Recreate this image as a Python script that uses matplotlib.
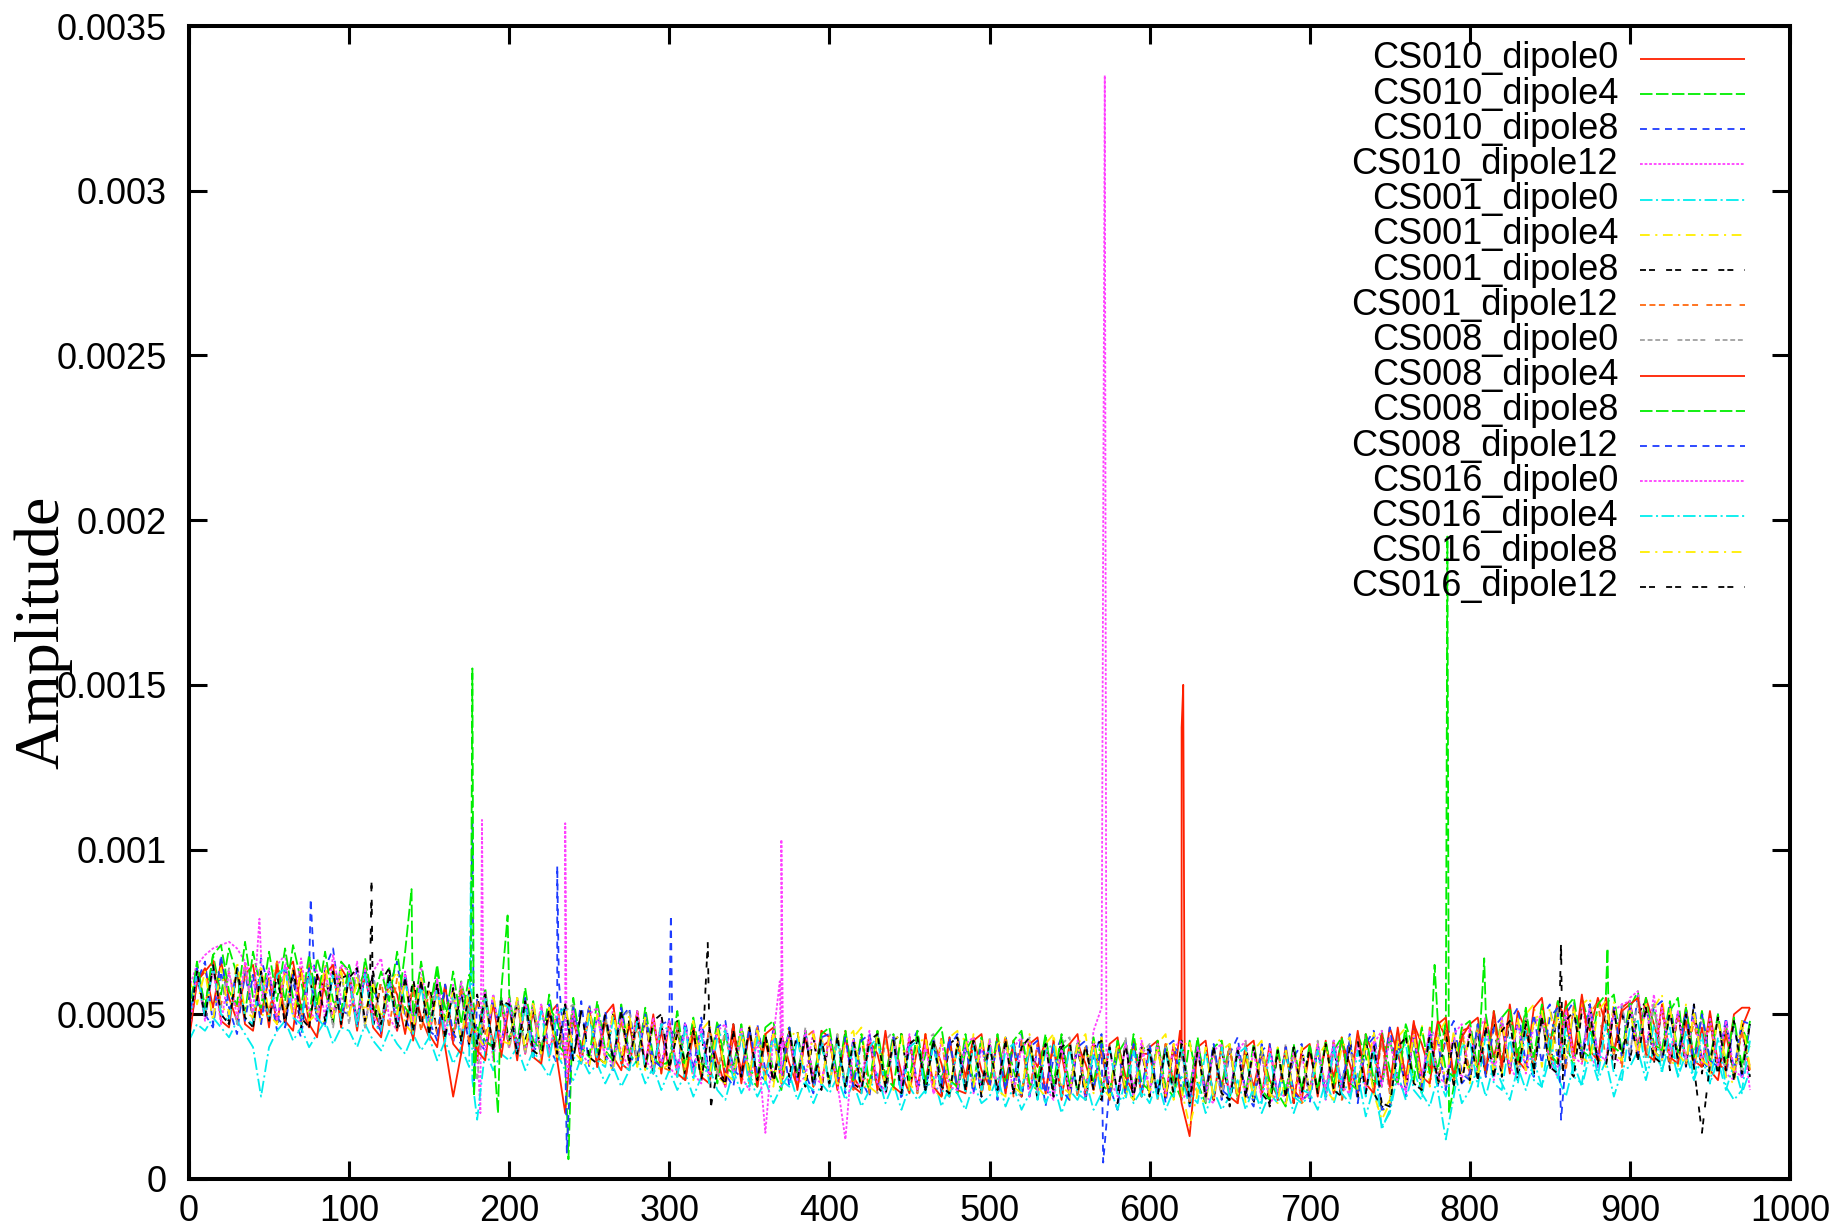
import numpy as np
import matplotlib.pyplot as plt

plt.rcParams['lines.scale_dashes'] = False

# amplitude samples every 5 channels, in units of 1e-5
x_step = 5
scale = 1e-5

cs010_dipole0 = [
    44, 60, 64, 52, 66, 55, 48, 62, 65, 50, 61, 47, 63, 66, 52, 46, 62, 57, 49, 64,
    60, 47, 63, 52, 45, 61, 56, 44, 59, 49, 43, 58, 40, 25, 38, 55, 36, 54, 41, 53,
    40, 54, 38, 51, 37, 50, 53, 35, 48, 39, 52, 34, 48, 37, 33, 47, 35, 49, 32, 45,
    33, 46, 30, 44, 31, 45, 36, 28, 43, 33, 45, 29, 42, 30, 44, 35, 28, 43, 31, 40,
    42, 29, 44, 31, 27, 42, 38, 28, 43, 32, 26, 40, 30, 42, 35, 25, 41, 31, 43, 33,
    28, 43, 30, 40, 26, 39, 34, 42, 27, 38, 25, 41, 35, 27, 40, 24, 42, 31, 26, 38,
    38, 26, 41, 29, 37, 25, 42, 27, 39, 28, 40, 25, 37, 28, 39, 30, 25, 38, 27, 24,
    39, 27, 41, 31, 42, 35, 26, 44, 37, 30, 46, 38, 29, 47, 41, 33, 48, 43, 31, 45,
    46, 33, 49, 37, 47, 32, 51, 45, 34, 52, 41, 54, 48, 36, 53, 45, 55, 47, 38, 52,
    54, 40, 55, 47, 38, 52, 36, 48, 34, 46, 33, 30, 44, 32, 46, 52]
cs010_dipole4 = [
    46, 64, 52, 68, 56, 70, 62, 50, 69, 57, 48, 66, 54, 71, 60, 49, 67, 58, 47, 66,
    63, 48, 67, 53, 46, 64, 50, 69, 43, 60, 46, 63, 52, 44, 60, 49, 42, 58, 38, 55,
    42, 55, 39, 54, 37, 52, 48, 38, 53, 36, 50, 38, 49, 34, 48, 37, 51, 33, 47, 35,
    35, 47, 31, 46, 30, 45, 29, 44, 34, 46, 31, 28, 44, 33, 27, 43, 32, 44, 29, 41,
    30, 43, 28, 42, 33, 27, 43, 31, 44, 28, 41, 27, 38, 43, 30, 42, 26, 39, 43, 28,
    41, 27, 43, 33, 25, 42, 30, 44, 27, 39, 41, 26, 40, 29, 43, 24, 38, 42, 27, 40,
    39, 26, 41, 30, 24, 42, 29, 23, 40, 28, 41, 25, 38, 24, 40, 29, 26, 22, 39, 27,
    27, 41, 26, 39, 43, 29, 44, 37, 28, 45, 33, 29, 47, 39, 26, 44, 33, 48, 28, 43,
    33, 47, 31, 51, 36, 49, 38, 52, 33, 50, 39, 54, 41, 34, 55, 46, 36, 53, 56, 38,
    52, 57, 37, 53, 36, 51, 55, 35, 50, 34, 49, 33, 47, 31, 46, 40]
cs010_dipole8 = [
    43, 60, 66, 47, 68, 52, 44, 63, 48, 67, 58, 45, 65, 50, 43, 62, 47, 64, 70, 51,
    50, 64, 46, 62, 44, 58, 66, 49, 43, 61, 48, 42, 59, 41, 57, 40, 55, 38, 56, 40,
    55, 39, 53, 36, 52, 40, 35, 51, 37, 54, 34, 50, 38, 33, 49, 52, 35, 50, 32, 47,
    48, 31, 46, 33, 49, 30, 45, 32, 28, 44, 31, 47, 33, 29, 45, 28, 43, 32, 26, 42,
    28, 44, 26, 43, 30, 25, 44, 28, 42, 24, 40, 45, 27, 42, 26, 40, 44, 28, 41, 25,
    41, 24, 43, 29, 44, 25, 40, 22, 37, 43, 26, 41, 24, 37, 44, 28, 21, 42, 25, 39,
    25, 42, 23, 40, 38, 22, 42, 26, 41, 24, 38, 43, 26, 22, 41, 24, 39, 23, 37, 41,
    23, 40, 26, 42, 28, 44, 23, 41, 45, 28, 46, 31, 25, 47, 30, 45, 28, 43, 48, 32,
    30, 47, 32, 50, 33, 48, 52, 35, 31, 49, 53, 36, 50, 54, 37, 52, 34, 55, 38, 53,
    37, 56, 39, 52, 54, 35, 51, 34, 53, 36, 33, 50, 31, 48, 30, 47]
cs010_dipole12 = [
    58, 65, 68, 70, 71, 72, 70, 66, 60, 52, 50, 65, 68, 52, 47, 66, 63, 49, 68, 55,
    52, 66, 47, 63, 67, 49, 45, 62, 48, 65, 44, 61, 46, 42, 60, 45, 40, 57, 36, 54,
    40, 55, 38, 53, 36, 52, 39, 37, 53, 38, 35, 50, 36, 52, 38, 34, 49, 36, 33, 48,
    34, 31, 47, 32, 29, 46, 33, 28, 45, 31, 27, 44, 30, 46, 28, 43, 29, 31, 45, 28,
    44, 28, 42, 27, 30, 45, 28, 26, 43, 29, 44, 27, 41, 26, 29, 43, 27, 42, 26, 40,
    28, 42, 26, 40, 43, 25, 41, 28, 24, 42, 27, 41, 25, 45, 52, 29, 26, 41, 25, 39,
    26, 41, 25, 39, 24, 27, 42, 25, 23, 40, 24, 39, 42, 24, 38, 23, 26, 40, 24, 38,
    25, 40, 24, 38, 42, 26, 43, 27, 41, 45, 28, 44, 26, 45, 29, 46, 42, 27, 44, 47,
    31, 45, 49, 30, 48, 34, 30, 50, 33, 51, 35, 31, 52, 36, 54, 38, 33, 55, 37, 35,
    55, 57, 39, 56, 37, 53, 35, 52, 34, 50, 33, 49, 32, 30, 46, 27]
cs001_dipole0 = [
    42, 47, 45, 49, 46, 43, 48, 44, 40, 25, 40, 45, 48, 42, 46, 40, 44, 48, 41, 46,
    45, 40, 47, 42, 39, 45, 41, 38, 44, 39, 43, 36, 42, 35, 40, 34, 18, 39, 33, 38,
    36, 40, 33, 39, 35, 31, 38, 33, 30, 37, 32, 35, 29, 34, 28, 33, 36, 29, 34, 27,
    33, 27, 32, 25, 31, 34, 27, 24, 33, 26, 31, 25, 30, 23, 28, 32, 24, 30, 23, 29,
    26, 31, 24, 29, 22, 27, 32, 23, 29, 21, 28, 24, 27, 31, 22, 28, 26, 21, 29, 23,
    25, 31, 22, 28, 21, 26, 31, 23, 29, 20, 27, 24, 30, 21, 26, 28, 21, 30, 23, 27,
    23, 30, 21, 27, 31, 22, 29, 20, 27, 21, 25, 30, 21, 28, 20, 26, 23, 29, 20, 27,
    26, 21, 30, 23, 31, 25, 32, 19, 28, 16, 20, 32, 24, 33, 26, 22, 31, 25, 34, 23,
    27, 34, 25, 35, 29, 24, 34, 27, 36, 28, 37, 31, 25, 35, 28, 38, 30, 36, 25, 33,
    34, 39, 30, 40, 33, 41, 31, 38, 30, 37, 29, 36, 27, 35, 26, 33]
cs001_dipole4 = [
    48, 62, 51, 65, 53, 49, 64, 50, 62, 47, 60, 66, 50, 64, 48, 62, 51, 47, 61, 64,
    49, 62, 47, 60, 46, 59, 63, 47, 44, 60, 45, 59, 43, 57, 42, 55, 41, 54, 38, 53,
    52, 38, 53, 40, 36, 52, 38, 35, 51, 37, 34, 50, 36, 33, 49, 35, 51, 33, 48, 32,
    47, 31, 46, 30, 45, 48, 31, 29, 46, 30, 47, 29, 45, 28, 44, 46, 29, 45, 28, 44,
    28, 44, 27, 43, 46, 28, 26, 43, 27, 45, 29, 26, 44, 27, 25, 43, 45, 27, 44, 26,
    43, 27, 25, 42, 26, 44, 28, 25, 43, 26, 24, 41, 44, 26, 43, 25, 42, 24, 40, 43,
    25, 41, 44, 24, 40, 42, 25, 23, 40, 43, 24, 40, 23, 39, 42, 24, 40, 22, 39, 23,
    25, 42, 27, 24, 43, 26, 44, 28, 45, 20, 24, 43, 46, 29, 47, 28, 44, 48, 29, 46,
    29, 47, 31, 49, 32, 51, 33, 50, 53, 34, 52, 35, 54, 36, 53, 55, 37, 34, 54, 36,
    53, 55, 37, 52, 56, 36, 34, 53, 33, 51, 32, 50, 31, 29, 47, 33]
cs001_dipole8 = [
    46, 62, 49, 65, 50, 48, 63, 49, 46, 62, 48, 64, 47, 61, 46, 62, 49, 63, 47, 61,
    62, 47, 63, 46, 60, 64, 47, 45, 61, 46, 60, 44, 58, 43, 57, 41, 56, 42, 40, 55,
    41, 53, 42, 51, 39, 50, 38, 53, 36, 51, 52, 37, 35, 50, 36, 48, 37, 49, 33, 47,
    33, 48, 32, 46, 31, 45, 33, 30, 47, 31, 45, 30, 44, 29, 43, 31, 45, 28, 43, 27,
    43, 28, 44, 29, 27, 43, 28, 25, 42, 44, 27, 43, 26, 42, 25, 41, 43, 27, 42, 25,
    41, 43, 27, 42, 25, 41, 24, 42, 27, 43, 25, 41, 24, 40, 42, 26, 23, 41, 24, 40,
    25, 41, 24, 40, 42, 23, 39, 41, 24, 40, 22, 39, 41, 23, 39, 22, 38, 40, 23, 39,
    26, 40, 25, 41, 23, 42, 25, 43, 26, 22, 21, 43, 27, 44, 28, 41, 29, 45, 28, 44,
    30, 44, 32, 47, 31, 49, 30, 48, 32, 50, 33, 52, 34, 31, 51, 53, 35, 52, 33, 51,
    36, 50, 54, 35, 52, 33, 51, 34, 53, 32, 50, 31, 48, 30, 47, 31]
cs001_dipole12 = [
    49, 64, 52, 67, 53, 63, 51, 65, 48, 63, 50, 66, 49, 64, 47, 65, 50, 61, 63, 49,
    62, 47, 64, 48, 60, 46, 61, 49, 58, 45, 57, 44, 59, 42, 58, 41, 54, 44, 53, 41,
    55, 39, 52, 38, 53, 37, 52, 38, 51, 36, 50, 39, 49, 37, 48, 36, 46, 35, 49, 34,
    33, 48, 32, 44, 31, 46, 32, 45, 30, 44, 29, 46, 31, 45, 29, 44, 28, 43, 45, 28,
    44, 29, 45, 27, 43, 26, 45, 28, 42, 27, 42, 26, 44, 27, 43, 25, 42, 28, 41, 26,
    40, 26, 44, 25, 42, 27, 41, 26, 40, 24, 41, 25, 40, 27, 39, 24, 40, 26, 42, 25,
    39, 24, 41, 25, 40, 23, 42, 24, 40, 25, 41, 23, 39, 26, 38, 24, 39, 25, 40, 23,
    27, 40, 26, 42, 24, 41, 28, 43, 26, 42, 26, 44, 29, 45, 27, 46, 28, 45, 30, 44,
    32, 46, 34, 48, 33, 50, 35, 48, 33, 51, 34, 52, 33, 53, 35, 50, 54, 36, 51, 34,
    53, 36, 55, 37, 52, 34, 50, 35, 48, 33, 47, 34, 46, 32, 45, 33]
cs008_dipole0 = [
    44, 62, 51, 63, 52, 64, 47, 65, 49, 61, 48, 63, 51, 62, 49, 61, 50, 62, 46, 63,
    47, 64, 46, 63, 45, 62, 44, 61, 45, 59, 46, 57, 45, 55, 44, 54, 30, 56, 39, 55,
    39, 54, 38, 53, 37, 52, 36, 51, 53, 36, 51, 35, 50, 34, 49, 51, 35, 50, 33, 48,
    34, 46, 35, 45, 33, 44, 32, 46, 31, 44, 32, 45, 30, 43, 31, 42, 30, 46, 29, 44,
    28, 44, 29, 41, 30, 43, 26, 42, 45, 27, 43, 26, 42, 44, 27, 43, 28, 41, 29, 42,
    43, 26, 42, 27, 25, 43, 26, 42, 25, 41, 43, 26, 24, 42, 26, 41, 25, 43, 26, 38,
    41, 25, 40, 28, 39, 24, 41, 23, 40, 25, 39, 24, 42, 25, 38, 26, 24, 41, 25, 37,
    26, 42, 25, 41, 29, 40, 28, 44, 27, 43, 26, 44, 32, 42, 31, 43, 45, 28, 44, 32,
    31, 47, 35, 46, 34, 50, 33, 49, 37, 48, 36, 52, 35, 51, 39, 50, 38, 54, 37, 53,
    38, 54, 37, 53, 36, 52, 35, 51, 34, 50, 33, 49, 32, 48, 31, 47]
cs008_dipole4 = [
    42, 60, 63, 66, 48, 46, 64, 47, 45, 63, 46, 65, 48, 45, 64, 47, 43, 62, 65, 46,
    62, 45, 63, 46, 43, 61, 45, 62, 42, 60, 44, 40, 59, 41, 38, 57, 39, 36, 54, 37,
    53, 36, 54, 37, 35, 52, 36, 20, 51, 35, 52, 34, 50, 53, 35, 33, 51, 34, 50, 32,
    48, 32, 30, 47, 31, 29, 46, 30, 47, 29, 45, 28, 44, 46, 29, 45, 27, 44, 28, 45,
    43, 27, 44, 28, 26, 43, 27, 45, 28, 26, 43, 27, 44, 28, 25, 43, 27, 26, 42, 44,
    27, 43, 26, 42, 25, 41, 43, 26, 42, 24, 41, 44, 26, 42, 25, 41, 43, 26, 42, 25,
    40, 42, 25, 41, 23, 13, 40, 42, 24, 41, 25, 23, 40, 42, 25, 41, 24, 40, 23, 39,
    41, 25, 42, 26, 43, 27, 45, 29, 26, 44, 28, 46, 30, 48, 31, 29, 47, 49, 31, 43,
    47, 49, 32, 51, 34, 53, 36, 33, 52, 55, 37, 35, 54, 38, 56, 39, 36, 55, 38, 51,
    53, 55, 38, 36, 53, 37, 35, 52, 36, 34, 51, 35, 33, 50, 52, 52]
cs008_dipole8 = [
    50, 66, 52, 68, 71, 57, 53, 72, 55, 52, 69, 54, 70, 55, 52, 68, 53, 69, 54, 51,
    65, 56, 64, 55, 63, 54, 69, 52, 49, 66, 50, 65, 48, 63, 47, 62, 46, 42, 40, 57,
    56, 41, 58, 42, 39, 56, 41, 38, 55, 40, 37, 54, 39, 36, 53, 38, 35, 52, 37, 34,
    36, 51, 34, 49, 35, 33, 48, 34, 32, 47, 33, 31, 46, 48, 32, 46, 31, 45, 30, 44,
    46, 31, 45, 30, 44, 29, 45, 31, 28, 44, 30, 45, 29, 43, 46, 30, 28, 44, 29, 43,
    29, 44, 28, 42, 45, 29, 27, 43, 29, 44, 28, 42, 27, 43, 29, 26, 42, 28, 44, 29,
    27, 42, 28, 25, 41, 27, 43, 26, 40, 42, 25, 40, 26, 41, 27, 24, 40, 26, 41, 27,
    41, 27, 42, 28, 43, 29, 27, 44, 30, 28, 43, 29, 45, 30, 46, 32, 48, 33, 31, 46,
    48, 33, 50, 35, 49, 52, 36, 51, 37, 53, 38, 35, 52, 55, 39, 37, 53, 56, 40, 38,
    54, 40, 55, 41, 39, 54, 38, 52, 37, 51, 36, 50, 35, 49, 34, 48]
cs008_dipole12 = [
    48, 64, 50, 46, 63, 49, 65, 48, 62, 47, 63, 49, 46, 62, 48, 64, 49, 47, 63, 48,
    62, 47, 63, 48, 45, 61, 46, 62, 44, 60, 45, 43, 59, 44, 41, 57, 42, 39, 55, 41,
    54, 39, 55, 40, 38, 53, 39, 37, 52, 38, 53, 37, 51, 36, 52, 37, 35, 50, 36, 34,
    49, 34, 48, 33, 47, 32, 46, 48, 33, 31, 46, 32, 30, 45, 31, 46, 30, 44, 29, 43,
    44, 29, 43, 28, 42, 44, 29, 27, 43, 28, 42, 29, 27, 42, 28, 43, 27, 41, 26, 42,
    28, 42, 27, 41, 25, 40, 42, 26, 41, 27, 24, 40, 42, 27, 41, 25, 40, 26, 41, 27,
    41, 26, 40, 42, 27, 25, 40, 26, 41, 27, 25, 40, 26, 24, 39, 41, 25, 40, 26, 24,
    26, 40, 25, 41, 27, 42, 26, 40, 43, 21, 22, 41, 27, 43, 28, 44, 42, 27, 43, 29,
    32, 47, 31, 46, 49, 33, 48, 34, 50, 35, 49, 52, 36, 51, 37, 53, 38, 36, 52, 37,
    52, 38, 53, 39, 36, 52, 37, 51, 35, 50, 36, 34, 49, 33, 48, 47]
cs016_dipole0 = [
    45, 62, 48, 64, 47, 63, 49, 66, 50, 68, 64, 48, 65, 50, 67, 51, 48, 64, 49, 65,
    63, 48, 64, 49, 46, 62, 48, 63, 47, 61, 45, 60, 44, 59, 42, 58, 43, 39, 56, 41,
    55, 40, 54, 39, 53, 38, 52, 37, 51, 36, 50, 52, 37, 35, 50, 36, 51, 35, 49, 34,
    48, 33, 47, 32, 46, 31, 45, 47, 32, 46, 31, 42, 14, 43, 29, 44, 30, 45, 31, 29,
    43, 29, 12, 42, 28, 43, 29, 27, 42, 28, 43, 27, 41, 26, 42, 28, 27, 41, 43, 28,
    42, 27, 41, 26, 40, 42, 27, 41, 25, 40, 26, 42, 27, 41, 26, 40, 25, 41, 27, 42,
    27, 41, 26, 40, 42, 26, 40, 25, 39, 41, 26, 40, 25, 39, 24, 40, 26, 25, 39, 24,
    26, 41, 27, 42, 28, 26, 41, 27, 42, 28, 43, 29, 27, 44, 30, 45, 31, 29, 44, 30,
    46, 31, 47, 33, 49, 34, 48, 32, 47, 50, 36, 34, 51, 37, 35, 52, 38, 36, 51, 53,
    54, 39, 53, 38, 52, 37, 51, 36, 50, 35, 49, 34, 48, 33, 31, 35]
cs016_dipole4 = [
    47, 63, 49, 65, 50, 48, 64, 49, 47, 63, 48, 62, 64, 49, 47, 63, 49, 46, 62, 48,
    61, 46, 62, 47, 45, 60, 46, 61, 44, 59, 43, 58, 42, 57, 41, 56, 40, 55, 39, 54,
    52, 38, 53, 37, 51, 36, 50, 52, 37, 35, 50, 36, 34, 49, 35, 33, 48, 34, 32, 47,
    45, 31, 46, 30, 44, 29, 43, 45, 30, 44, 28, 43, 29, 44, 30, 28, 43, 29, 27, 42,
    28, 42, 27, 41, 26, 40, 43, 27, 41, 25, 40, 42, 26, 41, 27, 25, 40, 26, 41, 27,
    40, 25, 39, 41, 26, 40, 24, 39, 41, 25, 40, 26, 24, 39, 25, 40, 26, 24, 39, 25,
    38, 24, 39, 25, 40, 26, 23, 39, 25, 40, 24, 38, 40, 25, 23, 38, 24, 39, 25, 23,
    25, 39, 24, 40, 26, 23, 39, 25, 40, 15, 21, 38, 41, 27, 24, 42, 27, 12, 25, 40,
    42, 28, 44, 29, 27, 43, 29, 45, 30, 28, 44, 30, 46, 31, 29, 45, 31, 47, 32, 30,
    46, 48, 33, 47, 32, 46, 31, 45, 30, 44, 29, 43, 28, 24, 27, 42]
cs016_dipole8 = [
    61, 53, 63, 48, 64, 50, 66, 51, 49, 65, 50, 47, 63, 49, 64, 48, 50, 65, 49, 63,
    50, 60, 51, 59, 49, 58, 50, 60, 45, 61, 46, 56, 48, 57, 42, 58, 43, 40, 56, 42,
    41, 55, 39, 54, 38, 52, 37, 53, 39, 36, 52, 37, 35, 51, 36, 50, 34, 49, 35, 33,
    35, 44, 34, 48, 33, 31, 46, 32, 30, 45, 31, 46, 30, 44, 29, 43, 45, 30, 44, 29,
    43, 28, 42, 45, 29, 27, 43, 28, 42, 44, 27, 41, 43, 28, 42, 27, 41, 43, 28, 42,
    27, 41, 43, 28, 26, 42, 27, 41, 44, 28, 26, 41, 27, 42, 28, 25, 41, 27, 24, 40,
    26, 40, 25, 41, 27, 16, 26, 40, 24, 39, 41, 25, 39, 24, 40, 26, 23, 39, 25, 40,
    27, 37, 41, 26, 40, 43, 27, 41, 26, 18, 23, 42, 28, 44, 29, 39, 43, 29, 45, 30,
    45, 31, 47, 32, 48, 34, 49, 33, 48, 51, 35, 50, 36, 52, 37, 35, 51, 54, 38, 36,
    52, 37, 53, 39, 36, 52, 38, 35, 51, 36, 34, 49, 35, 33, 48, 34]
cs016_dipole12 = [
    46, 63, 49, 65, 50, 47, 64, 49, 46, 63, 48, 62, 47, 64, 49, 46, 62, 48, 63, 47,
    61, 64, 48, 63, 47, 62, 46, 61, 45, 60, 44, 59, 43, 58, 42, 57, 41, 56, 39, 54,
    53, 38, 54, 39, 37, 52, 38, 53, 36, 51, 37, 35, 50, 36, 51, 35, 49, 34, 48, 50,
    34, 44, 35, 45, 30, 46, 32, 29, 45, 31, 46, 30, 44, 29, 43, 45, 30, 44, 28, 43,
    29, 43, 28, 42, 27, 42, 44, 28, 42, 26, 41, 43, 27, 42, 28, 26, 41, 27, 42, 28,
    41, 27, 42, 26, 40, 43, 27, 41, 25, 40, 42, 26, 41, 27, 24, 40, 26, 41, 25, 40,
    39, 25, 40, 26, 41, 24, 39, 25, 40, 26, 24, 39, 25, 40, 26, 23, 39, 25, 40, 26,
    40, 26, 41, 27, 25, 40, 42, 26, 41, 23, 22, 40, 43, 29, 27, 44, 30, 28, 43, 29,
    44, 30, 46, 31, 45, 48, 32, 47, 33, 49, 34, 32, 48, 51, 35, 50, 36, 34, 51, 37,
    50, 36, 52, 37, 35, 51, 36, 50, 34, 14, 35, 49, 33, 48, 32, 47]

# isolated glitches between the regular samples: (channel, amplitude)
spikes = {
    'CS010_dipole0': [(619, 45), (620, 137), (621, 150), (622, 28)],
    'CS010_dipole4': [(139, 88), (141, 50), (785, 42), (786, 195), (787, 20)],
    'CS010_dipole8': [(76, 85), (177, 108), (178, 30), (571, 5)],
    'CS010_dipole12': [(182, 20), (183, 109), (184, 45), (572, 335), (573, 38)],
    'CS001_dipole0': [(176, 90), (177, 30)],
    'CS001_dipole8': [(113, 58), (114, 90), (324, 72), (326, 22)],
    'CS008_dipole8': [(176, 60), (177, 155), (178, 25), (193, 20), (199, 80),
                      (237, 6), (778, 65), (809, 67), (886, 70), (887, 40)],
    'CS008_dipole12': [(230, 95), (231, 60), (236, 8), (301, 80), (302, 40),
                       (857, 18)],
    'CS016_dipole0': [(44, 79), (46, 55), (235, 108), (236, 30), (369, 60),
                      (370, 103), (371, 40)],
    'CS016_dipole12': [(856, 50), (857, 72), (858, 30)],
}

names = ['CS010_dipole0', 'CS010_dipole4', 'CS010_dipole8', 'CS010_dipole12',
         'CS001_dipole0', 'CS001_dipole4', 'CS001_dipole8', 'CS001_dipole12',
         'CS008_dipole0', 'CS008_dipole4', 'CS008_dipole8', 'CS008_dipole12',
         'CS016_dipole0', 'CS016_dipole4', 'CS016_dipole8', 'CS016_dipole12']
series = [cs010_dipole0, cs010_dipole4, cs010_dipole8, cs010_dipole12,
          cs001_dipole0, cs001_dipole4, cs001_dipole8, cs001_dipole12,
          cs008_dipole0, cs008_dipole4, cs008_dipole8, cs008_dipole12,
          cs016_dipole0, cs016_dipole4, cs016_dipole8, cs016_dipole12]

# gnuplot-like line types, cycling after nine
lt_colors = ['#ff2000', '#00ee00', '#1e3cff', '#ff40ff', '#00eeee',
             '#ffee00', '#000000', '#ff6a10', '#a0a0a0']
lt_dashes = [(0, ()), (0, (9, 2.5)), (0, (5, 4)), (0, (2, 1.3)),
             (0, (9, 2.5, 1.5, 2.5)), (0, (7, 4, 1.5, 4)),
             (0, (4.3, 2.2, 4.3, 8)), (0, (4.3, 2.5, 4.3, 2.5, 4.3, 6)),
             (0, (3.5, 2, 3.5, 2, 3.5, 2, 3.5, 7))]

yticks = [0, 0.0005, 0.001, 0.0015, 0.002, 0.0025, 0.003, 0.0035]
ytick_labels = ['0', '0.0005', '0.001', '0.0015', '0.002', '0.0025', '0.003', '0.0035']
xticks = list(range(0, 1001, 100))

sans = 'Liberation Sans'

fig = plt.figure(figsize=(18.43, 12.31), dpi=100)
ax = fig.add_axes([189 / 1843, 52 / 1231, 1601 / 1843, 1153 / 1231])

for i, (name, vals) in enumerate(zip(names, series)):
    x = np.arange(len(vals)) * x_step
    y = np.array(vals, dtype=float)
    extra = spikes.get(name, [])
    if extra:
        x = np.concatenate([x, [p[0] for p in extra]])
        y = np.concatenate([y, [p[1] for p in extra]])
        order = np.argsort(x, kind='stable')
        x, y = x[order], y[order]
    ax.plot(x, y * scale, color=lt_colors[i % 9], linestyle=lt_dashes[i % 9],
            lw=1.3, zorder=2 + i * 0.01)

ax.set_xlim(0, 1000)
ax.set_ylim(0, 0.0035)
ax.set_xticks(xticks)
ax.set_xticklabels([str(v) for v in xticks])
ax.set_yticks(yticks)
ax.set_yticklabels(ytick_labels)
ax.tick_params(direction='in', length=13, width=2.2, top=True, right=True,
               labelsize=26)
ax.tick_params(axis='y', pad=16)
ax.tick_params(axis='x', pad=11)
for lab in ax.get_xticklabels() + ax.get_yticklabels():
    lab.set_family(sans)
for sp in ax.spines.values():
    sp.set_linewidth(2.9)
    sp.set_zorder(10)

# key in the top right corner: right-aligned titles, sample line after
y0, dy = 0.9715, 0.03053
for i, name in enumerate(names):
    yy = y0 - i * dy
    ax.text(0.8926, yy, name, transform=ax.transAxes, ha='right', va='center',
            family=sans, fontsize=26, zorder=5)
    ax.plot([0.9063, 0.9719], [yy, yy], transform=ax.transAxes,
            color=lt_colors[i % 9], linestyle=lt_dashes[i % 9], lw=1.3,
            zorder=5)

fig.text(0.0233, 0.4866, 'Amplitude', rotation=90, ha='center', va='center',
         family='Liberation Serif', fontsize=46)

fig.savefig('out.png', dpi=100)
